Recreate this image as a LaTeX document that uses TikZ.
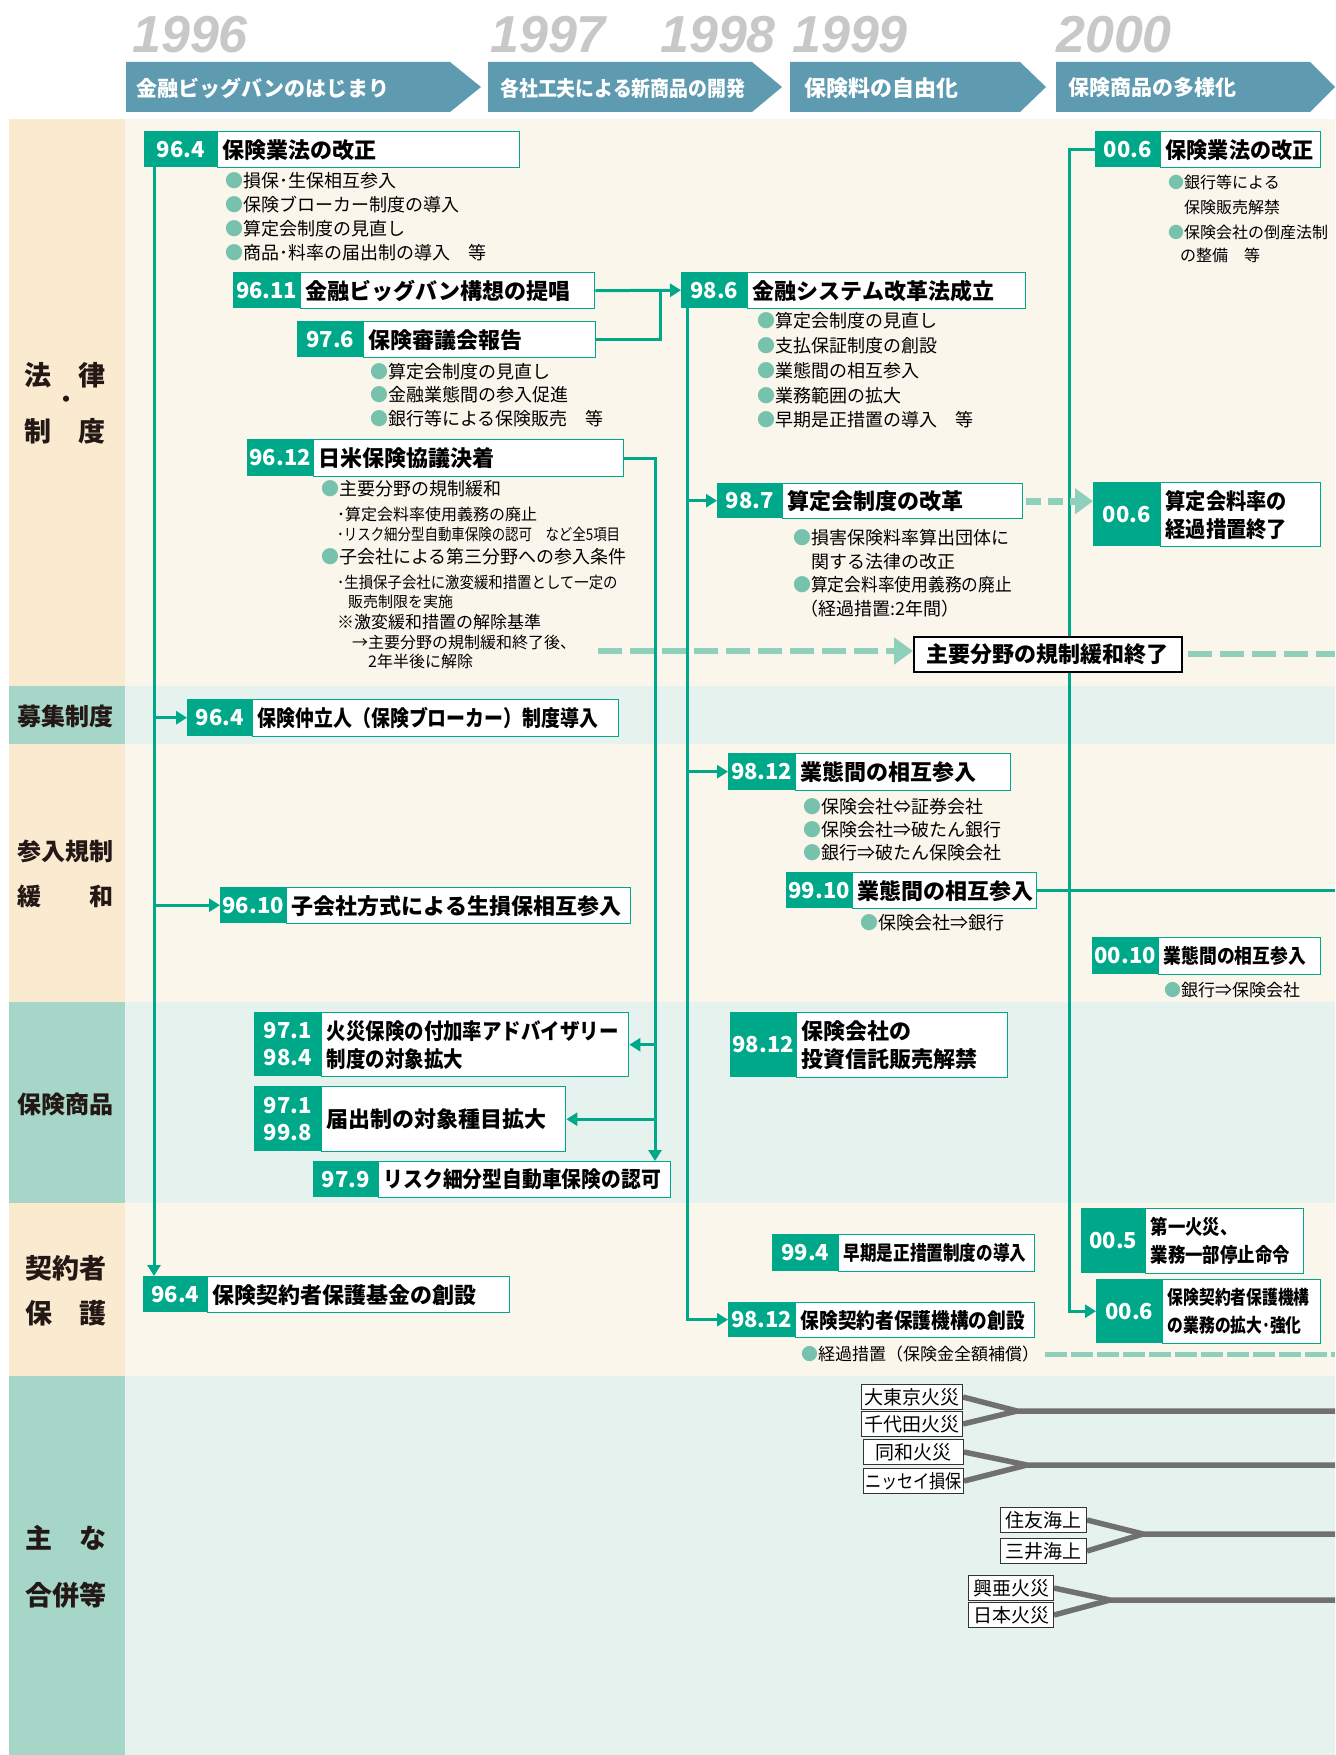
\documentclass[tikz,border=0pt]{standalone}
\usepackage{fontspec}
\usepackage{graphicx}
\setmainfont{Noto Sans CJK JP}
\newfontfamily\yrfont{Liberation Sans}
\usetikzlibrary{arrows.meta,calc}
\definecolor{grn}{RGB}{0,168,138}
\definecolor{bulc}{RGB}{118,194,172}
\definecolor{dshc}{RGB}{143,208,188}
\definecolor{banc}{RGB}{94,155,176}
\definecolor{yrc}{RGB}{200,200,200}
\definecolor{orL}{RGB}{250,234,208}
\definecolor{orM}{RGB}{251,246,236}
\definecolor{gnL}{RGB}{166,214,200}
\definecolor{gnM}{RGB}{230,242,238}
\definecolor{mgc}{RGB}{112,112,112}
\definecolor{lblc}{RGB}{35,24,21}
\newcommand\FS[2]{\fontsize{#1}{#2}\selectfont}
\newcommand\SX[2]{\scalebox{#1}[1]{#2}}
\newcommand\BL{\textcolor{bulc}{●}}
\pgfdeclarelayer{back}\pgfdeclarelayer{mid}
\pgfsetlayers{back,mid,main}
\tikzset{
  numbox/.style={fill=grn, text=white, inner sep=0pt, anchor=north west, align=center, font=\bfseries\FS{22}{27}},
  txtbox/.style={draw=grn, line width=1.4pt, fill=white, inner xsep=5pt, inner ysep=0pt, anchor=north west, align=left, text=black},
  conn/.style={draw=grn, line width=3pt},
  arr/.style={conn, -{Triangle[length=11pt,width=13pt]}},
  dshA/.style={draw=dshc, line width=6pt, dash pattern=on 24pt off 8pt, -{Triangle[length=19pt,width=26pt]}},
  dshB/.style={draw=dshc, line width=6pt, dash pattern=on 24pt off 8pt},
  dshC/.style={draw=dshc, line width=7pt, dash pattern=on 15pt off 7pt, -{Triangle[length=18pt,width=25pt]}},
  dshD/.style={draw=dshc, line width=5pt, dash pattern=on 22pt off 4pt},
  mline/.style={draw=mgc, line width=5.5pt},
  mbox/.style={draw=black!80, line width=1pt, fill=white, inner sep=0pt, minimum height=25, anchor=north west, font=\FS{19}{19}, text=black},
  lbl/.style={anchor=west, inner sep=0pt, text=lblc, font=\bfseries\FS{27}{27}},
  tline/.style={anchor=west, inner sep=0pt, text=black},
  yrs/.style={anchor=base west, inner sep=0pt, text=yrc, font=\yrfont\bfseries\itshape\FS{52}{52}},
  bantxt/.style={anchor=west, inner sep=0pt, text=white, font=\bfseries\FS{21}{21}},
  shbox/.style={draw=black, line width=1.5pt, fill=white, anchor=north west, inner sep=0pt, font=\bfseries\FS{22}{22}, text=black}
}
% name, x1, xsplit, x2, y1, y2, number, text, fontsize
\newcommand\EBox[9]{%
  \node[txtbox, minimum height={#6-#5}, text width={#4-#3-10}, font=\bfseries\FS{#9}{28}] (#1) at (#3,#5) {#8};
  \node[numbox, minimum width={#3-#2}, minimum height={#6-#5}] (#1n) at (#2,#5) {#7};
}
\newcommand\TLn[5]{\node[tline, font=\FS{#4}{#4}] (#1) at (#2,#3) {#5};}
\begin{document}
\begin{tikzpicture}[x=1pt,y=-1pt]
\useasboundingbox (0,0) rectangle (1335,1755);
\begin{pgfonlayer}{back}
\fill[white] (0,0) rectangle (1335,1755);
\fill[orL] (9,119) rectangle (125,686); \fill[orM] (125,119) rectangle (1335,686);
\fill[gnL] (9,686) rectangle (125,744); \fill[gnM] (125,686) rectangle (1335,744);
\fill[orL] (9,744) rectangle (125,1002); \fill[orM] (125,744) rectangle (1335,1002);
\fill[gnL] (9,1002) rectangle (125,1203); \fill[gnM] (125,1002) rectangle (1335,1203);
\fill[orL] (9,1203) rectangle (125,1376); \fill[orM] (125,1203) rectangle (1335,1376);
\fill[gnL] (9,1376) rectangle (125,1755); \fill[gnM] (125,1376) rectangle (1335,1755);
% banners
\fill[banc] (126,62) -- (450,62) -- (481,87) -- (450,112) -- (126,112) -- cycle;
\fill[banc] (488,62) -- (752,62) -- (782,87) -- (752,112) -- (488,112) -- cycle;
\fill[banc] (790,62) -- (1020,62) -- (1046,87) -- (1020,112) -- (790,112) -- cycle;
\fill[banc] (1056,62) -- (1310,62) -- (1335,87) -- (1310,112) -- (1056,112) -- cycle;
\end{pgfonlayer}
% years
\node[yrs] (y96) at (132,53) {1996};
\node[yrs] (y97) at (490,53) {1997};
\node[yrs] (y98) at (660,53) {1998};
\node[yrs] (y99) at (792,53) {1999};
\node[yrs] (y00) at (1056,53) {2000};
% banner texts
\node[bantxt] (bt1) at (136,88) {金融ビッグバンのはじまり};
\node[bantxt] (bt2) at (500,88) {\SX{0.9}{各社工夫による新商品の開発}};
\node[bantxt, font=\bfseries\FS{22}{22}] (bt3) at (804,88) {保険料の自由化};
\node[bantxt] (bt4) at (1068,88) {保険商品の多様化};
% left labels
\node[lbl] (la1) at (24,375) {法　律};
\node[lbl, anchor=center, font=\bfseries\FS{22}{22}] (la2) at (66,402) {・};
\node[lbl] (la3) at (24,431) {制　度};
\node[lbl, font=\bfseries\FS{24}{24}] (lb1) at (17,716) {募集制度};
\node[lbl, font=\bfseries\FS{24}{24}] (lc1) at (17,851) {参入規制};
\node[lbl, font=\bfseries\FS{24}{24}] (lc2) at (17,896) {緩　　和};
\node[lbl, font=\bfseries\FS{24}{24}] (ld1) at (17,1104) {保険商品};
\node[lbl] (le1) at (25,1268) {契約者};
\node[lbl] (le2) at (25,1313) {保　護};
\node[lbl] (lf1) at (25,1538) {主　な};
\node[lbl] (lf2) at (25,1595) {合併等};
% boxes
\EBox{hk}{144}{217}{519}{131}{167}{96.4}{保険業法の改正}{22}
\EBox{bb}{233}{300}{594}{272}{308}{96.11}{金融ビッグバン構想の提唱}{22}
\EBox{sg}{297}{363}{595}{321}{357}{97.6}{保険審議会報告}{22}
\EBox{nb}{247}{313}{623}{439}{476}{96.12}{日米保険協議決着}{22}
\EBox{fs}{681}{747}{1025}{272}{308}{98.6}{金融システム改革法成立}{22}
\EBox{sk}{717}{782}{1022}{483}{518}{98.7}{算定会制度の改革}{22}
\EBox{kr}{1093}{1160}{1320}{482}{546}{00.6}{\SX{0.92}{算定会料率の}\\\SX{0.92}{経過措置終了}}{22}
\EBox{hk6}{1095}{1160}{1320}{131}{167}{00.6}{\SX{0.96}{保険業法の改正}}{22}
\node[shbox, minimum width=268, minimum height=35] (shuyo) at (913,636) {主要分野の規制緩和終了};
\EBox{bk}{187}{252}{618}{699}{736}{96.4}{\SX{0.86}{保険仲立人（保険ブローカー）制度導入}}{22}
\EBox{ks}{220}{286}{630}{887}{923}{96.10}{子会社方式による生損保相互参入}{22}
\EBox{gt}{728}{795}{1010}{753}{790}{98.12}{業態間の相互参入}{22}
\EBox{gt2}{786}{852}{1036}{872}{908}{99.10}{業態間の相互参入}{22}
\EBox{gt3}{1092}{1158}{1320}{937}{974}{00.10}{\SX{0.89}{業態間の相互参入}}{20}
\EBox{ka}{254}{321}{628}{1012}{1076}{97.1\\98.4}{\SX{0.885}{火災保険の付加率アドバイザリー}\\\SX{0.885}{制度の対象拡大}}{22}
\EBox{td}{254}{321}{565}{1086}{1151}{97.1\\99.8}{届出制の対象種目拡大}{22}
\EBox{rs}{313}{378}{670}{1161}{1197}{97.9}{\SX{0.9}{リスク細分型自動車保険の認可}}{22}
\EBox{ts}{730}{796}{1007}{1012}{1077}{98.12}{保険会社の\\投資信託販売解禁}{22}
\EBox{kk}{143}{207}{509}{1276}{1312}{96.4}{保険契約者保護基金の創設}{22}
\EBox{sz}{772}{838}{1034}{1234}{1271}{99.4}{\SX{0.83}{早期是正措置制度の導入}}{20}
\EBox{kh}{728}{795}{1034}{1302}{1337}{98.12}{\SX{0.89}{保険契約者保護機構の創設}}{21}
\EBox{dk}{1081}{1145}{1303}{1208}{1273}{00.5}{\SX{0.87}{第一火災、}\\\SX{0.87}{業務一部停止命令}}{20}
\EBox{kx}{1096}{1162}{1320}{1279}{1343}{00.6}{\SX{0.83}{保険契約者保護機構}\\\SX{0.83}{の業務の拡大･強化}}{19}
% bullet lines
\TLn{hka}{225}{181}{18}{\BL 損保･生保相互参入}
\TLn{hkb}{225}{205}{18}{\BL 保険ブローカー制度の導入}
\TLn{hkc}{225}{229}{18}{\BL 算定会制度の見直し}
\TLn{hkd}{225}{253}{18}{\BL 商品･料率の届出制の導入　等}
\TLn{sga}{370}{372}{18}{\BL 算定会制度の見直し}
\TLn{sgb}{370}{395}{18}{\BL 金融業態間の参入促進}
\TLn{sgc}{370}{419}{18}{\BL 銀行等による保険販売　等}
\TLn{nba}{321}{489}{18}{\BL 主要分野の規制緩和}
\TLn{nbb}{337}{514}{16}{･算定会料率使用義務の廃止}
\TLn{nbc}{337}{534}{16}{\SX{0.84}{･リスク細分型自動車保険の認可　など全5項目}}
\TLn{nbd}{321}{557}{18}{\BL 子会社による第三分野への参入条件}
\TLn{nbe}{337}{582}{16}{\SX{0.9}{･生損保子会社に激変緩和措置として一定の}}
\TLn{nbf}{348}{602}{15}{販売制限を実施}
\TLn{nbg}{337}{622}{17}{※激変緩和措置の解除基準}
\TLn{nbh}{352}{642}{16}{→主要分野の規制緩和終了後、}
\TLn{nbi}{368}{661}{16}{2年半後に解除}
\TLn{fsa}{757}{321}{18}{\BL 算定会制度の見直し}
\TLn{fsb}{757}{346}{18}{\BL 支払保証制度の創設}
\TLn{fsc}{757}{371}{18}{\BL 業態間の相互参入}
\TLn{fsd}{757}{396}{18}{\BL 業務範囲の拡大}
\TLn{fse}{757}{420}{18}{\BL 早期是正措置の導入　等}
\TLn{ska}{793}{538}{18}{\BL 損害保険料率算出団体に}
\TLn{skb}{793}{562}{18}{\phantom{●}関する法律の改正}
\TLn{skc}{793}{585}{18}{\BL \SX{0.93}{算定会料率使用義務の廃止}}
\TLn{skd}{800}{609}{18}{（経過措置:2年間）}
\TLn{ha}{1168}{182}{16}{\BL 銀行等による}
\TLn{hb}{1168}{207}{16}{\phantom{●}保険販売解禁}
\TLn{hc}{1168}{232}{16}{\BL 保険会社の倒産法制}
\TLn{hd}{1180}{255}{16}{の整備　等}
\TLn{gta}{803}{807}{18}{\BL 保険会社⇔証券会社}
\TLn{gtb}{803}{830}{18}{\BL 保険会社⇒破たん銀行}
\TLn{gtc}{803}{853}{18}{\BL 銀行⇒破たん保険会社}
\TLn{gtd}{860}{923}{18}{\BL 保険会社⇒銀行}
\TLn{gte}{1164}{990}{17}{\BL 銀行⇒保険会社}
\TLn{kha}{801}{1354}{17}{\BL 経過措置（保険金全額補償）}
% merger boxes
\node[mbox, minimum width=101] (m1) at (861,1384) {大東京火災};
\node[mbox, minimum width=101] (m2) at (861,1411) {千代田火災};
\node[mbox, minimum width=100] (m3) at (863,1439) {同和火災};
\node[mbox, minimum width=100] (m4) at (863,1468) {\SX{0.85}{ニッセイ損保}};
\node[mbox, minimum width=86] (m5) at (1000,1507) {住友海上};
\node[mbox, minimum width=86] (m6) at (1000,1538) {三井海上};
\node[mbox, minimum width=85] (m7) at (968,1575) {興亜火災};
\node[mbox, minimum width=85] (m8) at (968,1602) {日本火災};
% connectors
\begin{pgfonlayer}{mid}
\coordinate (l1x) at (154,0);
\coordinate (l2x) at (655,0);
\coordinate (l3x) at (687,0);
\coordinate (l4x) at (1069,0);
\coordinate (jx) at (660,0);
\coordinate (redge) at (1335,0);
\coordinate (dstart) at (598,651);
\coordinate (mp1) at (1017,1411);
\coordinate (mp2) at (1027,1465);
\coordinate (mp3) at (1143,1534);
\coordinate (mp4) at (1110,1600);
\draw[arr] (hkn.south -| l1x) -- (kkn.north -| l1x);
\draw[arr] (bkn.west -| l1x) -- (bkn.west);
\draw[arr] (ksn.west -| l1x) -- (ksn.west);
\draw[arr] (bb.east) -- (fsn.west);
\draw[conn] (sg.east) -- (sg.east -| jx) -- (bb.east -| jx);
\draw[arr] (nb.east) -- (nb.east -| l2x) -- (rs.north -| l2x);
\draw[arr] (ka.east -| l2x) -- (ka.east);
\draw[arr] (td.east -| l2x) -- (td.east);
\draw[arr] (fsn.south -| l3x) -- (khn.west -| l3x) -- (khn.west);
\draw[arr] (skn.west -| l3x) -- (skn.west);
\draw[arr] (gtn.west -| l3x) -- (gtn.west);
\draw[arr] (hk6n.west) -- (hk6n.west -| l4x) -- (kxn.west -| l4x) -- (kxn.west);
\draw[conn] (gt2.east) -- (gt2.east -| redge);
\draw[dshA] (dstart) -- (dstart -| shuyo.west);
\draw[dshB] ([xshift=5pt]shuyo.east) -- (shuyo.east -| redge);
\draw[dshC] ([xshift=3pt]sk.east) -- (sk.east -| krn.west);
\draw[dshD] ([xshift=6pt]kha.east) -- (kha.east -| redge);
\draw[mline] (m1.east) -- (mp1) -- (mp1 -| redge);
\draw[mline] (m2.east) -- (mp1);
\draw[mline] (m3.east) -- (mp2) -- (mp2 -| redge);
\draw[mline] (m4.east) -- (mp2);
\draw[mline] (m5.east) -- (mp3) -- (mp3 -| redge);
\draw[mline] (m6.east) -- (mp3);
\draw[mline] (m7.east) -- (mp4) -- (mp4 -| redge);
\draw[mline] (m8.east) -- (mp4);
\end{pgfonlayer}
\end{tikzpicture}
\end{document}
